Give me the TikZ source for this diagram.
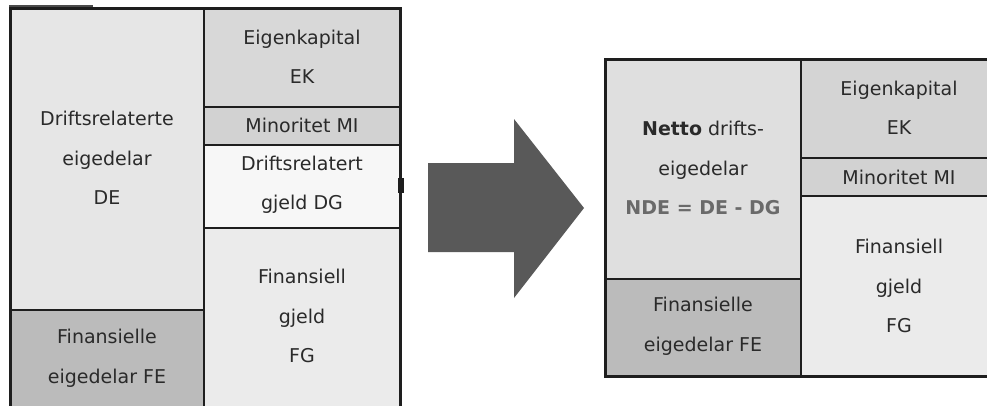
\documentclass[tikz,border=0pt]{standalone}
\usepackage{fontspec}
\setmainfont{DejaVu Sans}
\definecolor{txt}{HTML}{2A2A2A}
\definecolor{ndetxt}{HTML}{6A6A6A}
\definecolor{rule}{HTML}{1E1E1E}
\definecolor{cDE}{HTML}{E6E6E6}
\definecolor{cFE}{HTML}{BBBBBB}
\definecolor{cEK}{HTML}{D8D8D8}
\definecolor{cMI}{HTML}{D2D2D2}
\definecolor{cDG}{HTML}{F7F7F7}
\definecolor{cFG}{HTML}{EBEBEB}
\definecolor{arrowgray}{HTML}{595959}
\begin{document}
\begin{tikzpicture}[x=1pt,y=-1pt,
  cell/.style={draw=rule,line width=2pt},
  frame/.style={draw=rule,line width=3pt},
  lbl/.style={align=center,text=txt,inner sep=0pt,font=\fontsize{19}{39.5}\selectfont},
]
\useasboundingbox[fill=white] (0,0) rectangle (987,405);

% ---- balance sheet before reclassification ----
\path[cell,fill=cDE] (10,8) rectangle (204,310);
\path[cell,fill=cFE] (10,310) rectangle (204,408);
\path[cell,fill=cEK] (204,8) rectangle (400,107);
\path[cell,fill=cMI] (204,107) rectangle (400,145);
\path[cell,fill=cDG] (204,145) rectangle (400,228);
\path[cell,fill=cFG] (204,228) rectangle (400,408);
\path[frame] (10,408) -- (10,8) -- (400,8) -- (400,408);
\path[draw=rule!80!white,line width=1.5pt] (9,6) -- (93,6);
\fill[rule] (398,178) rectangle (403.5,193);

\node[lbl] (de) at (107,158) {Driftsrelaterte\\eigedelar\\DE};
\node[lbl] (fe) at (107,358) {Finansielle\\eigedelar FE};
\node[lbl] (ek) at (302,57) {Eigenkapital\\EK};
\node[lbl] (mi) at (302,125) {Minoritet MI};
\node[lbl] (dg) at (302,185) {Driftsrelatert\\gjeld DG};
\node[lbl] (fg) at (302,316) {Finansiell\\gjeld\\FG};

% ---- block arrow ----
\fill[arrowgray] (428,163) -- (514,163) -- (514,119) -- (584,208)
  -- (514,298) -- (514,252) -- (428,252) -- cycle;

% ---- balance sheet after netting ----
\path[cell,fill=cDE!97!black] (605,59) rectangle (801,279);
\path[cell,fill=cFE] (605,279) rectangle (801,376);
\path[cell,fill=cEK!98!black] (801,59) rectangle (992,158);
\path[cell,fill=cMI] (801,158) rectangle (992,196);
\path[cell,fill=cFG] (801,196) rectangle (992,376);
\path[frame] (992,59) -- (605,59) -- (605,376) -- (992,376);

\node[lbl] (nde) at (703,168) {\textbf{Netto} drifts-\\eigedelar\\\textcolor{ndetxt}{\textbf{NDE = DE - DG}}};
\node[lbl] (fe2) at (703,326) {Finansielle\\eigedelar FE};
\node[lbl] (ek2) at (899,108) {Eigenkapital\\EK};
\node[lbl] (mi2) at (899,177) {Minoritet MI};
\node[lbl] (fg2) at (899,286) {Finansiell\\gjeld\\FG};
\end{tikzpicture}
\end{document}
